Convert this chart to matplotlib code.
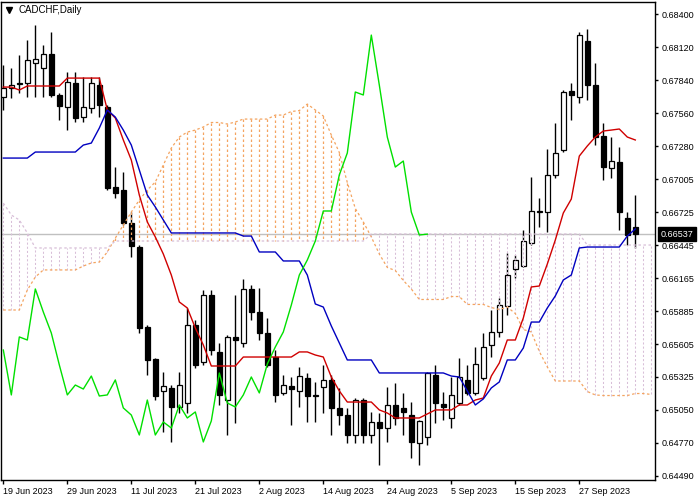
import matplotlib
matplotlib.use("Agg")
import matplotlib.pyplot as plt
import numpy as np

plt.rcParams['font.family'] = ['Liberation Sans', 'DejaVu Sans']

symbol_title = "CADCHF,Daily"
date_labels = ["19 Jun 2023", "29 Jun 2023", "11 Jul 2023", "21 Jul 2023", "2 Aug 2023",
               "14 Aug 2023", "24 Aug 2023", "5 Sep 2023", "15 Sep 2023", "27 Sep 2023"]
date_label_bars = [0, 8, 16, 24, 32, 40, 48, 56, 64, 72]
price_tick_labels = ["0.64490", "0.64770", "0.65050", "0.65325", "0.65605", "0.65885", "0.66165",
                     "0.66445", "0.66725", "0.67005", "0.67280", "0.67560", "0.67840", "0.68120", "0.68400"]
last_price = 0.66537
chikou_shift = 26

open_ = [0.67698, 0.67774, 0.67808, 0.67816, 0.67985, 0.67943, 0.68062, 0.67715, 0.67613, 0.67816,
         0.67528, 0.67605, 0.67799, 0.67613, 0.66936, 0.66911, 0.66631, 0.66428, 0.65751, 0.65480,
         0.65210, 0.65235, 0.65074, 0.65108, 0.65768, 0.65455, 0.66022, 0.65540, 0.65133, 0.65667,
         0.65616, 0.66073, 0.65878, 0.65700, 0.65497, 0.65193, 0.65252, 0.65210, 0.65320, 0.65167,
         0.65243, 0.65303, 0.65066, 0.65006, 0.64837, 0.65133, 0.64837, 0.64947, 0.64896, 0.65091,
         0.65066, 0.65006, 0.64769, 0.64820, 0.65345, 0.65099, 0.64981, 0.65108, 0.65303, 0.65193,
         0.65320, 0.65599, 0.65709, 0.65929, 0.66242, 0.66267, 0.66462, 0.66724, 0.66724, 0.67038,
         0.67249, 0.67748, 0.67698, 0.68172, 0.67799, 0.67368, 0.67097, 0.67148, 0.66674, 0.66597]
high = [0.67968, 0.67943, 0.68053, 0.68180, 0.68307, 0.68138, 0.68248, 0.67731, 0.67909, 0.67909,
        0.67867, 0.67867, 0.67867, 0.67630, 0.67105, 0.67063, 0.66724, 0.66445, 0.65768, 0.65489,
        0.65370, 0.65260, 0.65370, 0.65912, 0.65810, 0.66064, 0.66064, 0.65616, 0.65683, 0.66022,
        0.66157, 0.66107, 0.66081, 0.65827, 0.65556, 0.65345, 0.65328, 0.65413, 0.65362, 0.65286,
        0.65430, 0.65345, 0.65235, 0.65066, 0.65150, 0.65150, 0.65032, 0.65023, 0.65243, 0.65277,
        0.65193, 0.65116, 0.64964, 0.65370, 0.65430, 0.65201, 0.65328, 0.65489, 0.65430, 0.65582,
        0.65700, 0.65895, 0.65997, 0.66377, 0.66360, 0.66572, 0.67021, 0.66843, 0.67258, 0.67478,
        0.67757, 0.67816, 0.68248, 0.68273, 0.67985, 0.67478, 0.67359, 0.67274, 0.66724, 0.66868]
low = [0.67588, 0.67689, 0.67731, 0.67698, 0.67698, 0.67698, 0.67698, 0.67503, 0.67418, 0.67486,
       0.67486, 0.67562, 0.67528, 0.66911, 0.66843, 0.66614, 0.66344, 0.65700, 0.65345, 0.65133,
       0.64862, 0.64778, 0.65023, 0.65023, 0.65404, 0.65430, 0.65514, 0.65091, 0.64837, 0.64939,
       0.65582, 0.65810, 0.65641, 0.65413, 0.65116, 0.65176, 0.64922, 0.65074, 0.64947, 0.64947,
       0.65023, 0.64837, 0.64922, 0.64769, 0.64769, 0.64769, 0.64769, 0.64583, 0.64778, 0.64922,
       0.64837, 0.64642, 0.64583, 0.64752, 0.64939, 0.64964, 0.64896, 0.65091, 0.65176, 0.65176,
       0.65303, 0.65497, 0.65667, 0.65853, 0.66166, 0.66259, 0.66445, 0.66597, 0.66555, 0.67012,
       0.67232, 0.67503, 0.67647, 0.67672, 0.67291, 0.66995, 0.67012, 0.66572, 0.66445, 0.66420]
close = [0.67774, 0.67799, 0.67816, 0.68011, 0.68019, 0.68062, 0.67715, 0.67621, 0.67825, 0.67520,
         0.67613, 0.67816, 0.67630, 0.66927, 0.66885, 0.66631, 0.66437, 0.65743, 0.65472, 0.65167,
         0.65252, 0.65074, 0.65260, 0.65768, 0.65430, 0.66022, 0.65556, 0.65176, 0.65667, 0.65641,
         0.66073, 0.65878, 0.65700, 0.65430, 0.65176, 0.65260, 0.65226, 0.65336, 0.65167, 0.65176,
         0.65303, 0.65066, 0.65006, 0.64837, 0.65133, 0.64837, 0.64947, 0.64896, 0.65091, 0.64981,
         0.65032, 0.64778, 0.64956, 0.65362, 0.65108, 0.65074, 0.65176, 0.65328, 0.65193, 0.65438,
         0.65582, 0.65709, 0.65937, 0.66191, 0.66318, 0.66479, 0.66733, 0.66733, 0.67038, 0.67224,
         0.67740, 0.67715, 0.68222, 0.67799, 0.67359, 0.67105, 0.67156, 0.66724, 0.66530, 0.66537]

tenkan = [0.67782, 0.67782, 0.67757, 0.67791, 0.67791, 0.67791, 0.67791, 0.67791, 0.67858, 0.67858,
          0.67858, 0.67858, 0.67858, 0.67588, 0.67520, 0.67334, 0.67164, 0.66868, 0.66640, 0.66513,
          0.66369, 0.66191, 0.65963, 0.65912, 0.65743, 0.65599, 0.65421, 0.65421, 0.65421, 0.65421,
          0.65497, 0.65497, 0.65497, 0.65497, 0.65497, 0.65497, 0.65497, 0.65540, 0.65540, 0.65514,
          0.65497, 0.65328, 0.65210, 0.65116, 0.65116, 0.65116, 0.65116, 0.65049, 0.65023, 0.64981,
          0.64981, 0.64981, 0.64981, 0.65015, 0.65049, 0.65049, 0.65049, 0.65091, 0.65091, 0.65133,
          0.65150, 0.65336, 0.65446, 0.65641, 0.65641, 0.65827, 0.66090, 0.66098, 0.66284, 0.66487,
          0.66716, 0.66834, 0.67198, 0.67283, 0.67359, 0.67410, 0.67418, 0.67427, 0.67359, 0.67334]
kijun = [0.67181, 0.67181, 0.67181, 0.67181, 0.67232, 0.67232, 0.67232, 0.67232, 0.67232, 0.67232,
         0.67291, 0.67308, 0.67435, 0.67588, 0.67528, 0.67418, 0.67291, 0.67080, 0.66868, 0.66767,
         0.66657, 0.66547, 0.66547, 0.66547, 0.66547, 0.66547, 0.66547, 0.66547, 0.66547, 0.66547,
         0.66521, 0.66521, 0.66386, 0.66386, 0.66386, 0.66310, 0.66310, 0.66310, 0.66191, 0.65946,
         0.65920, 0.65760, 0.65616, 0.65472, 0.65472, 0.65472, 0.65472, 0.65362, 0.65362, 0.65362,
         0.65362, 0.65362, 0.65362, 0.65362, 0.65362, 0.65362, 0.65336, 0.65328, 0.65210, 0.65091,
         0.65142, 0.65235, 0.65286, 0.65472, 0.65472, 0.65573, 0.65793, 0.65793, 0.65912, 0.66014,
         0.66149, 0.66191, 0.66420, 0.66428, 0.66428, 0.66428, 0.66428, 0.66428, 0.66521, 0.66581]
# cloud runs 26 bars ahead, so it continues past the last candle to the chart edge
span_a = [0.65895, 0.65895, 0.65895, 0.66064, 0.66174, 0.66234, 0.66234, 0.66234, 0.66234, 0.66234,
          0.66267, 0.66293, 0.66301, 0.66386, 0.66504, 0.66614, 0.66724, 0.66826, 0.66911, 0.66978,
          0.67122, 0.67266, 0.67359, 0.67401, 0.67418, 0.67444, 0.67482, 0.67482, 0.67469, 0.67486,
          0.67511, 0.67511, 0.67511, 0.67511, 0.67545, 0.67545, 0.67575, 0.67583, 0.67638, 0.67588,
          0.67537, 0.67376, 0.67228, 0.66974, 0.66754, 0.66640, 0.66513, 0.66369, 0.66255, 0.66229,
          0.66145, 0.66073, 0.65984, 0.65984, 0.65984, 0.65984, 0.66009, 0.66009, 0.65942, 0.65942,
          0.65942, 0.65916, 0.65899, 0.65920, 0.65865, 0.65730, 0.65709, 0.65544, 0.65413, 0.65294,
          0.65294, 0.65294, 0.65294, 0.65205, 0.65176, 0.65171, 0.65171, 0.65171, 0.65171, 0.65188,
          0.65188, 0.65180]
span_b = [0.66800, 0.66699, 0.66657, 0.66547, 0.66420, 0.66420, 0.66420, 0.66420, 0.66420, 0.66420,
          0.66420, 0.66420, 0.66420, 0.66420, 0.66479, 0.66479, 0.66479, 0.66479, 0.66479, 0.66479,
          0.66479, 0.66479, 0.66479, 0.66479, 0.66479, 0.66479, 0.66479, 0.66479, 0.66479, 0.66479,
          0.66479, 0.66479, 0.66479, 0.66479, 0.66479, 0.66479, 0.66479, 0.66479, 0.66479, 0.66479,
          0.66479, 0.66479, 0.66479, 0.66479, 0.66479, 0.66479, 0.66538, 0.66538, 0.66538, 0.66538,
          0.66538, 0.66538, 0.66538, 0.66538, 0.66538, 0.66538, 0.66538, 0.66538, 0.66538, 0.66538,
          0.66538, 0.66538, 0.66538, 0.66538, 0.66538, 0.66538, 0.66538, 0.66538, 0.66538, 0.66538,
          0.66538, 0.66538, 0.66538, 0.66445, 0.66445, 0.66445, 0.66445, 0.66445, 0.66445, 0.66445,
          0.66445, 0.66445]

o = np.array(open_); h = np.array(high); l = np.array(low); c = np.array(close)
sa = np.array(span_a); sb = np.array(span_b)
n = len(c)
x = np.arange(n)
xc = np.arange(len(sa))

fig = plt.figure(figsize=(7, 5), dpi=100)
ax = fig.add_axes([1 / 700, 20 / 500, 653.5 / 700, 478 / 500])
ax.set_xlim(-0.29, 81.4)
ax.set_ylim(0.64456, 0.68502)

# candles
ax.vlines(x, l, h, color='black', lw=1, zorder=3)
up = c >= o
bottom = np.minimum(o, c)
height = np.maximum(np.abs(c - o), 0.00002)
ax.bar(x, height, bottom=bottom, width=0.62,
       color=np.where(up, 'white', 'black'), edgecolor='black', linewidth=0.9, zorder=4)

# price line
ax.axhline(last_price, color='#C0C0C0', lw=1, zorder=2)

# cloud
up_kumo = sa >= sb
ax.vlines(xc[up_kumo], sa[up_kumo], sb[up_kumo], colors='#F4A460',
          linestyles=(0, (2, 2)), lw=0.9, zorder=5)
ax.vlines(xc[~up_kumo], sa[~up_kumo], sb[~up_kumo], colors='#D8BFD8',
          linestyles=(0, (2, 2)), lw=0.75, zorder=5)
ax.plot(xc, sa, color='#F4A460', ls=(0, (2, 2)), lw=0.9, zorder=5)
ax.plot(xc, sb, color='#D8BFD8', ls=(0, (2, 2)), lw=0.9, zorder=5)

# lines
ax.plot(x, tenkan, color='#D00000', lw=1, zorder=6)
ax.plot(x, kijun, color='#0000C0', lw=1, zorder=6)
ax.plot(x[:n - chikou_shift], c[chikou_shift:], color='#00E000', lw=1, zorder=6)

# axes styling
for s in ax.spines.values():
    s.set_color('black')
    s.set_linewidth(1)
ax.yaxis.tick_right()
ax.set_yticks(np.linspace(0.64490, 0.68400, len(price_tick_labels)))
ax.set_yticklabels(price_tick_labels)
ax.set_xticks(date_label_bars)
ax.set_xticklabels(date_labels)
for lbl in ax.get_xticklabels():
    lbl.set_horizontalalignment('left')
ax.tick_params(axis='y', direction='out', length=2.5, width=1, pad=2.5, labelsize=6.5)
ax.tick_params(axis='x', direction='out', length=3, width=1, pad=2, labelsize=6.5)

# current price box
ax.text(1 + 6 / 653.5, last_price, "0.66537", transform=ax.get_yaxis_transform(),
        color='white', fontsize=6.5, va='center', ha='left',
        bbox=dict(boxstyle='square,pad=0.3', fc='black', ec='black'), zorder=10, clip_on=False)

# title
ax.plot([0.0125], [0.983], marker='v', ms=4.5, color='black', transform=ax.transAxes, clip_on=False)
ax.text(0.027, 0.983, symbol_title, transform=ax.transAxes, fontsize=7, va='center', ha='left')

fig.savefig("out.png", dpi=100)
